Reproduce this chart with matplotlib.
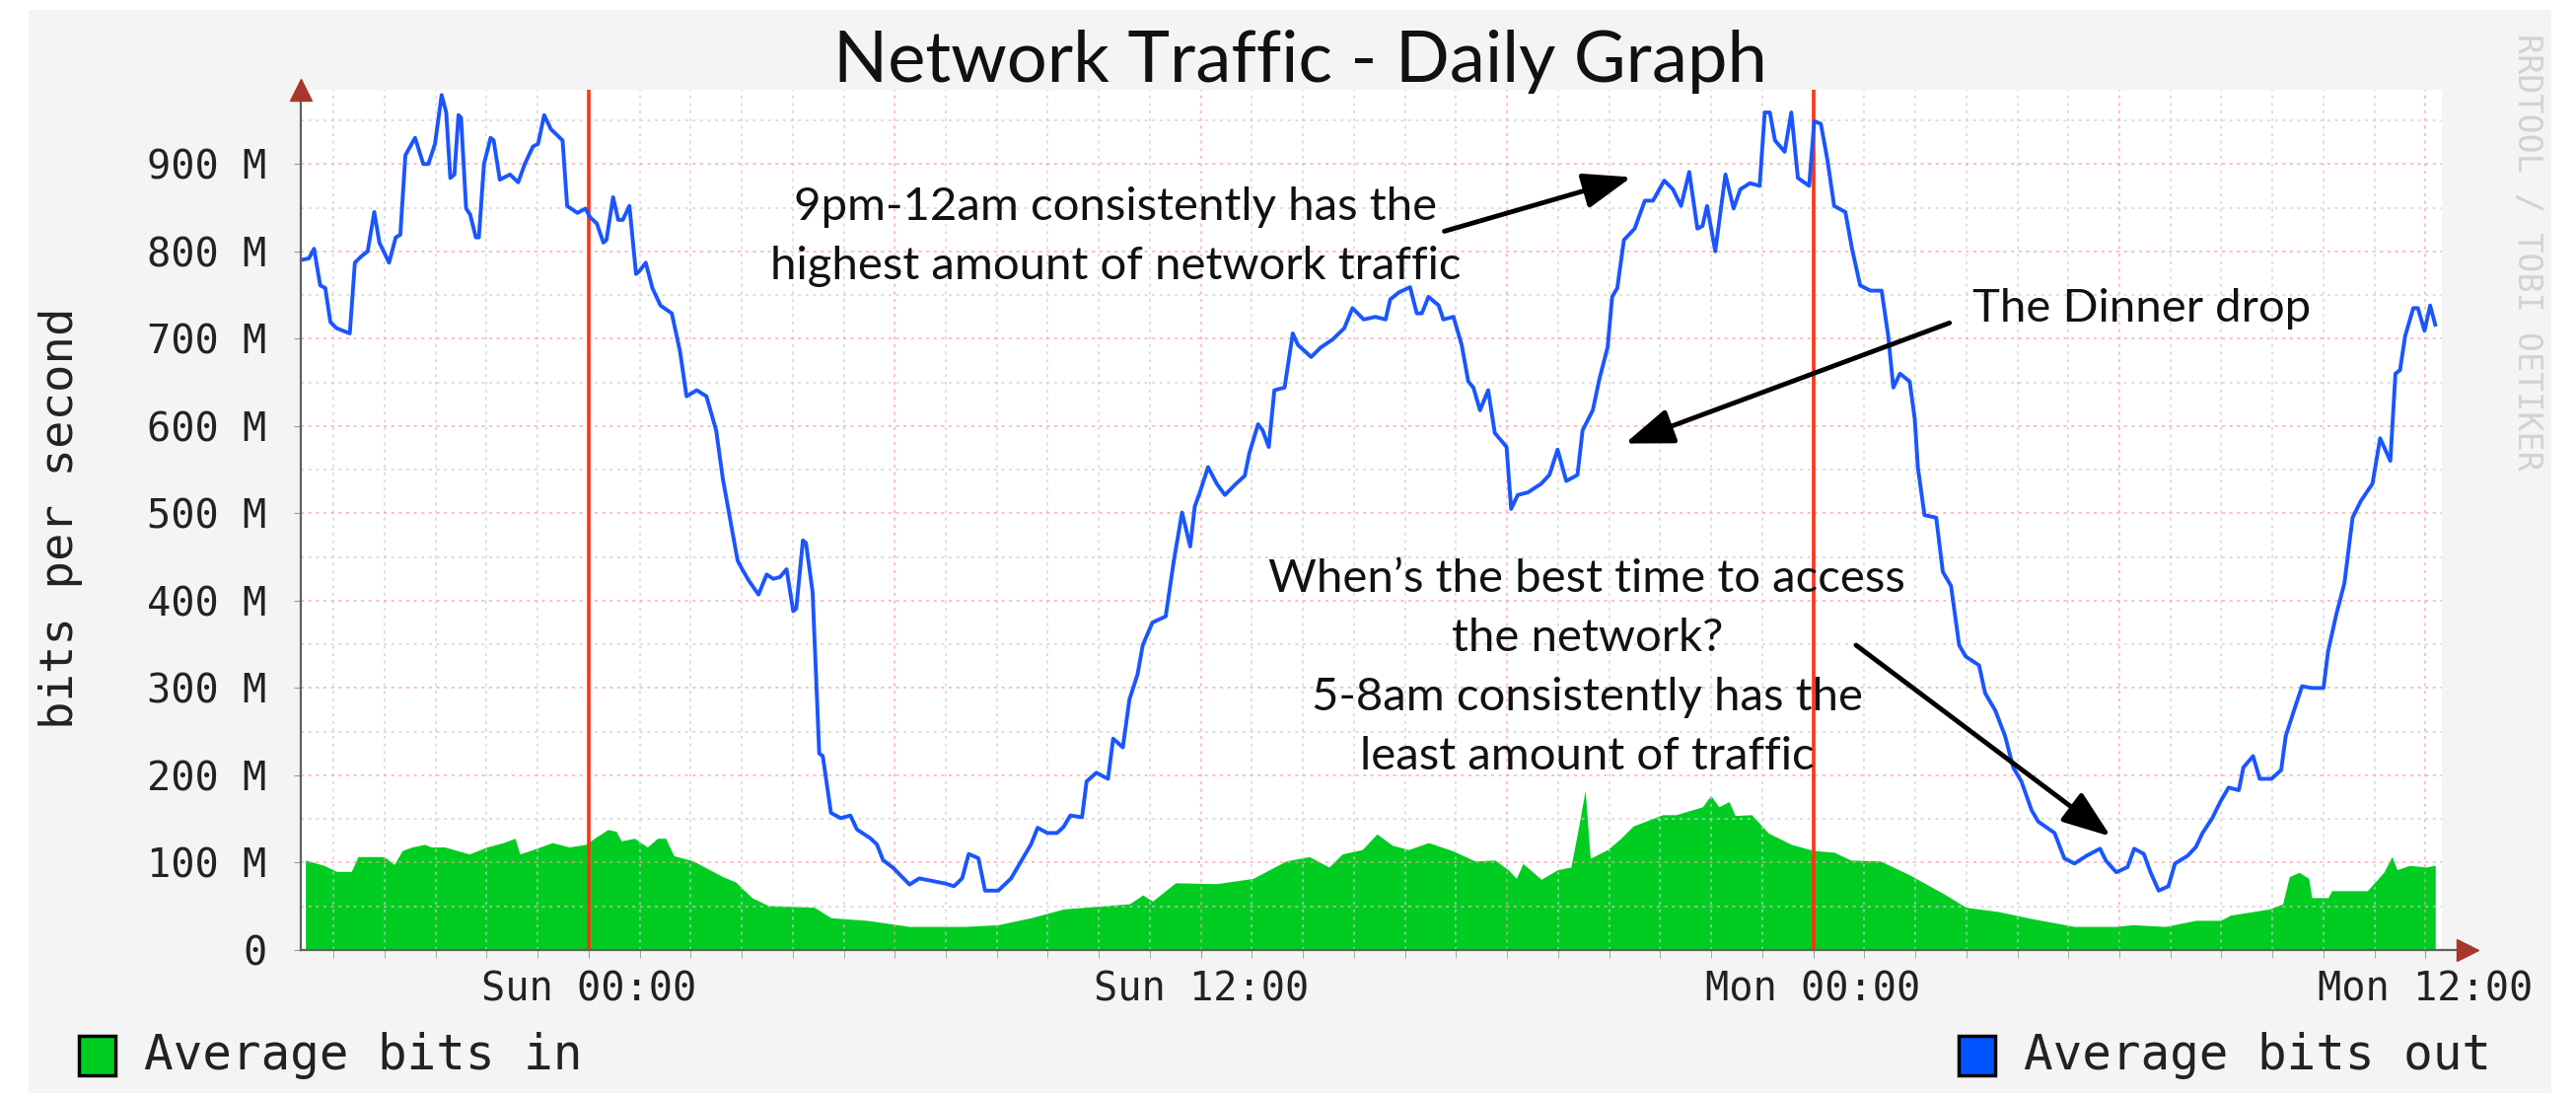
import matplotlib
matplotlib.use("Agg")
import matplotlib.pyplot as plt
from matplotlib.patches import Rectangle

# hours relative to Sun 00:00, values in Mbit/s
out_hours = [
    -5.64, -5.48, -5.38, -5.26, -5.16, -5.06, -4.94, -4.68, -4.58, -4.46, -4.33, -4.2, -4.1,
    -3.91, -3.78, -3.69, -3.59, -3.4, -3.24, -3.14, -3.01, -2.88, -2.79, -2.71, -2.63, -2.55,
    -2.5, -2.4, -2.32, -2.21, -2.15, -2.05, -1.92, -1.86, -1.74, -1.54, -1.38, -1.25, -1.09,
    -0.99, -0.87, -0.74, -0.51, -0.42, -0.22, -0.06, 0.03, 0.16, 0.29, 0.35, 0.48, 0.58, 0.67,
    0.8, 0.93, 0.99, 1.12, 1.25, 1.41, 1.63, 1.79, 1.92, 2.12, 2.31, 2.5, 2.63, 2.79, 2.92, 3.01,
    3.14, 3.33, 3.49, 3.62, 3.75, 3.88, 4.01, 4.07, 4.2, 4.26, 4.39, 4.46, 4.52, 4.59, 4.75,
    4.94, 5.13, 5.26, 5.52, 5.65, 5.77, 5.97, 6.29, 6.48, 6.74, 7.0, 7.16, 7.32, 7.45, 7.64,
    7.77, 8.03, 8.28, 8.48, 8.67, 8.8, 8.99, 9.18, 9.31, 9.44, 9.67, 9.76, 9.95, 10.18, 10.28,
    10.47, 10.6, 10.76, 10.86, 11.05, 11.31, 11.47, 11.63, 11.79, 11.88, 11.98, 12.14, 12.31,
    12.47, 12.69, 12.86, 12.95, 13.12, 13.21, 13.33, 13.44, 13.64, 13.8, 13.9, 14.16, 14.35,
    14.58, 14.81, 14.97, 15.19, 15.42, 15.62, 15.71, 15.88, 16.1, 16.23, 16.33, 16.46, 16.66,
    16.75, 16.95, 17.11, 17.24, 17.34, 17.47, 17.63, 17.76, 17.99, 18.08, 18.21, 18.41, 18.67,
    18.83, 18.99, 19.16, 19.38, 19.48, 19.68, 19.81, 19.97, 20.06, 20.16, 20.29, 20.5, 20.7,
    20.86, 21.08, 21.25, 21.41, 21.57, 21.73, 21.83, 21.92, 22.08, 22.28, 22.44, 22.57, 22.76,
    22.95, 23.05, 23.15, 23.25, 23.44, 23.57, 23.7, 23.92, 24.02, 24.15, 24.28, 24.41, 24.63,
    24.76, 24.92, 25.12, 25.34, 25.47, 25.57, 25.7, 25.89, 25.99, 26.05, 26.18, 26.41, 26.54,
    26.7, 26.86, 26.99, 27.25, 27.37, 27.57, 27.76, 27.92, 28.08, 28.28, 28.41, 28.73, 28.92,
    29.12, 29.36, 29.62, 29.74, 29.94, 30.16, 30.29, 30.48, 30.61, 30.77, 30.96, 31.09, 31.34,
    31.5, 31.63, 31.82, 31.98, 32.14, 32.34, 32.43, 32.62, 32.75, 32.98, 33.17, 33.26, 33.42,
    33.58, 33.77, 34.0, 34.09, 34.25, 34.41, 34.57, 34.73, 34.96, 35.11, 35.31, 35.41, 35.5,
    35.6, 35.76, 35.85, 35.98, 36.09, 36.19,
]
out_values = [
    790, 792, 803, 761, 758, 719, 712, 706, 787, 794, 800, 845, 810,
    787, 816, 819, 910, 930, 900, 900, 923, 979, 959, 884, 888, 956,
    953, 849, 842, 816, 816, 900, 930, 927, 882, 888, 879, 900, 920,
    923, 956, 940, 927, 852, 844, 849, 839, 832, 810, 813, 862, 836, 836,
    852, 774, 777, 787, 758, 738, 729, 686, 634, 641, 634, 595, 540, 488, 446, 436,
    423, 407, 430, 425, 427, 436, 388, 391, 469, 466, 410, 310, 225, 222, 157,
    151, 154, 138, 128, 121, 103, 94, 75, 82, 79, 76, 73, 82, 110, 105,
    68, 68, 82, 102, 121, 140, 134, 134, 141, 154, 152, 193, 203, 196, 242,
    232, 287, 316, 349, 375, 382, 446, 501, 462, 508, 524, 553, 534,
    521, 534, 543, 569, 602, 595, 576, 641, 644, 706, 693, 679, 690,
    699, 712, 735, 722, 725, 722, 745, 753, 759, 729, 729, 748, 738,
    722, 725, 693, 651, 644, 618, 641, 592, 576, 505, 521, 524, 534,
    544, 573, 537, 544, 595, 618, 654, 690, 748, 758, 813, 826, 858,
    858, 881, 871, 852, 891, 826, 829, 852, 800, 888, 849, 871, 878,
    875, 959, 959, 927, 914, 959, 884, 875, 949, 946, 904, 852, 845,
    803, 761, 755, 755, 703, 644, 660, 651, 608, 553, 498, 495, 433,
    417, 349, 336, 326, 294, 274, 245, 209, 193, 160, 147, 134, 105,
    99, 108, 116, 102, 89, 95, 116, 110, 89, 68, 73, 99, 108,
    118, 134, 151, 170, 186, 183, 209, 222, 196, 196, 206, 245, 274,
    302, 300, 300, 342, 384, 420, 495, 514, 534, 586, 560, 660, 664,
    703, 735, 735, 709, 738, 716,
]

in_hours = [
    -5.55, -5.19, -4.94, -4.65, -4.52, -4.01, -3.81, -3.65, -3.46, -3.21, -3.08, -2.82, -2.34,
    -1.99, -1.67, -1.44, -1.35, -1.09, -0.71, -0.38, -0.06, 0.19, 0.38, 0.54, 0.64, 0.9, 1.15,
    1.35, 1.51, 1.67, 2.05, 2.37, 2.63, 2.88, 3.2, 3.52, 4.42, 4.75, 5.45, 6.29, 7.38, 8.03,
    8.67, 9.31, 9.96, 10.6, 10.86, 11.05, 11.5, 12.31, 13.02, 13.67, 14.12, 14.51, 14.77,
    15.16, 15.45, 15.75, 16.07, 16.46, 16.92, 17.37, 17.76, 18.02, 18.18, 18.31, 18.67, 18.99,
    19.25, 19.38, 19.53, 19.63, 19.97, 20.23, 20.47, 21.05, 21.31, 21.83, 21.99, 22.15, 22.35,
    22.47, 22.79, 23.12, 23.57, 24.0, 24.41, 24.73, 25.31, 25.89, 26.6, 26.99, 27.63, 28.28,
    29.12, 29.94, 30.26, 30.9, 31.5, 31.98, 32.18, 32.94, 33.2, 33.33, 33.52, 33.71, 33.77,
    34.09, 34.16, 34.86, 35.18, 35.34, 35.44, 35.69, 36.01, 36.19,
]
in_values = [
    103, 97, 90, 90, 107, 107, 98, 114, 118, 121, 118, 118, 110,
    118, 123, 128, 110, 115, 123, 118, 121, 131, 138, 136, 125, 128, 118,
    128, 128, 108, 102, 92, 84, 78, 60, 51, 49, 37, 34, 27, 27, 29,
    37, 47, 50, 53, 63, 56, 77, 76, 82, 102, 107, 95, 110,
    115, 133, 120, 115, 123, 114, 102, 103, 92, 82, 99, 81, 92,
    95, 134, 183, 105, 115, 128, 142, 155, 155, 164, 177, 164, 170,
    154, 155, 134, 121, 114, 112, 103, 102, 86, 63, 49, 44, 36,
    27, 27, 29, 27, 34, 34, 40, 47, 53, 84, 89, 82, 60,
    60, 68, 68, 89, 107, 92, 97, 95, 97,
]

x_tick_hours = [0, 12, 24, 36]
x_tick_labels = ["Sun 00:00", "Sun 12:00", "Mon 00:00", "Mon 12:00"]
y_ticks = [0, 100, 200, 300, 400, 500, 600, 700, 800, 900]
y_tick_labels = ["0"] + ["%d M" % v for v in y_ticks[1:]]
midnights = [0, 24]

MONO = "DejaVu Sans Mono"
SANS = "Lato"

W, H = 2612, 1112
fig = plt.figure(figsize=(W / 100, H / 100), dpi=100, facecolor="white")
fig.patches.append(Rectangle((29 / W, 4 / H), (2587 - 29) / W, (1102 - 4) / H,
                             transform=fig.transFigure, facecolor="#f4f4f4",
                             edgecolor="none", zorder=-10))

ax = fig.add_axes([305 / W, (H - 963) / H, (2476 - 305) / W, (963 - 91) / H])
ax.set_facecolor("white")
ax.set_xlim(-5.64, 36.32)
ax.set_ylim(0, 985)

# grid: hourly / 50M minor (grey), 6h / 100M major (red)
dots = (0, (2, 3))
for h in range(-5, 37):
    if h % 6 == 0:
        ax.axvline(h, color="#ff9898", lw=1.1, ls=dots, zorder=3, alpha=0.8)
    else:
        ax.axvline(h, color="#cccccc", lw=1.1, ls=dots, zorder=3, alpha=0.8)
for v in range(50, 1000, 50):
    if v % 100 == 0:
        ax.axhline(v, color="#ff9898", lw=1.1, ls=dots, zorder=3, alpha=0.8)
    else:
        ax.axhline(v, color="#cccccc", lw=1.1, ls=dots, zorder=3, alpha=0.8)

ax.fill_between(in_hours, in_values, 0, color="#00cc22", lw=0, zorder=2)
for m in midnights:
    ax.axvline(m, color="#ff3311", lw=2.6, zorder=3.5)
ax.plot(out_hours, out_values, color="#1a55ff", lw=2.8, zorder=4)

for s in ["top", "right"]:
    ax.spines[s].set_visible(False)
for s in ["left", "bottom"]:
    ax.spines[s].set_color("#606060")
    ax.spines[s].set_linewidth(1.6)
    ax.spines[s].set_zorder(5)

ax.set_yticks(y_ticks)
ax.set_yticklabels(y_tick_labels, family=MONO, fontsize=29, color="#222222")
ax.set_xticks(x_tick_hours)
ax.set_xticklabels(x_tick_labels, family=MONO, fontsize=29, color="#222222")
ax.set_xticks(range(-5, 37), minor=True)
ax.tick_params(axis="y", length=5, color="#999999", pad=20)
ax.tick_params(axis="x", which="both", length=6, color="#999999", pad=9)

# axis arrows
ax.plot([0], [1.0], marker="^", ms=16, color="#a8372b", transform=ax.transAxes,
        clip_on=False, zorder=6)
ax.plot([1.0, 1.012], [0, 0], color="#606060", lw=1.6, transform=ax.transAxes, clip_on=False)
ax.plot([1.012], [0], marker=">", ms=16, color="#a8372b", transform=ax.transAxes,
        clip_on=False, zorder=6)

fig.text(1318 / W, 1 - 83 / H, "Network Traffic - Daily Graph", family=SANS,
         fontsize=52, ha="center", va="baseline", color="#111111")
fig.text(62 / W, 1 - 525 / H, "bits per second", family=MONO, fontsize=34,
         rotation=90, ha="center", va="center", color="#222222")
fig.text(2562 / W, 1 - 255 / H, "RRDTOOL / TOBI OETIKER", family=MONO, fontsize=24,
         rotation=270, ha="center", va="center", color="#d2d2d2")

# legend
fig.patches.append(Rectangle((80 / W, 1 - 1090 / H), 37 / W, 40 / H, transform=fig.transFigure,
                             facecolor="#00cc22", edgecolor="black", lw=2.5))
fig.text(146 / W, 1 - 1070 / H, "Average bits in", family=MONO, fontsize=35.5,
         ha="left", va="center", color="#222222")
fig.patches.append(Rectangle((1986 / W, 1 - 1090 / H), 37 / W, 40 / H, transform=fig.transFigure,
                             facecolor="#0055ff", edgecolor="black", lw=2.5))
fig.text(2052 / W, 1 - 1070 / H, "Average bits out", family=MONO, fontsize=35.5,
         ha="left", va="center", color="#222222")

# annotations (x in hours, y in M)
note_peak = ["9pm-12am consistently has the", "highest amount of network traffic"]
note_dinner = ["The Dinner drop"]
note_best = ["When\u2019s the best time to access", "the network?",
             "5-8am consistently has the", "least amount of traffic"]

def draw_note(lines, x, y_first, step=67.8):
    for i, line in enumerate(lines):
        ax.text(x, y_first - i * step, line, family=SANS, fontsize=34, ha="center",
                va="baseline", color="#111111", zorder=7)

draw_note(note_peak, 10.33, 836)
draw_note(note_dinner, 30.43, 719)
draw_note(note_best, 19.57, 410)

arrow = dict(arrowstyle="-|>,head_length=0.6,head_width=0.22", color="black", lw=3.5,
             mutation_scale=50, shrinkA=0, shrinkB=0)
ax.annotate("", xy=(20.44, 885), xytext=(16.77, 823), arrowprops=arrow, zorder=7)
ax.annotate("", xy=(20.31, 580), xytext=(26.67, 718), arrowprops=arrow, zorder=7)
ax.annotate("", xy=(29.83, 130), xytext=(24.84, 349), arrowprops=arrow, zorder=7)

fig.savefig("out.png", dpi=100, facecolor=fig.get_facecolor())
